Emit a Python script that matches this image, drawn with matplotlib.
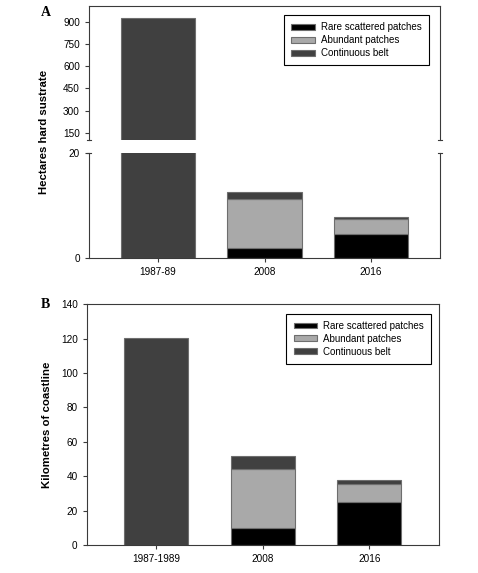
import matplotlib
matplotlib.use('Agg')
import matplotlib.pyplot as plt
import numpy as np

# datos panel A (hectareas)
periodos_a = ['1987-89', '2008', '2016']
rare_a = [0, 1.85, 4.6]
abund_a = [0, 9.35, 2.8]
cont_a = [930, 1.4, 0.35]

# datos panel B (km de costa)
periodos_b = ['1987-1989', '2008', '2016']
rare_b = [0, 9.7, 24.8]
abund_b = [0, 34.7, 10.9]
cont_b = [120.4, 7.6, 1.9]

etiquetas = ['Rare scattered patches', 'Abundant patches', 'Continuous belt']
colores = ['#000000', '#a9a9a9', '#404040']
borde = '#6e6e6e'
spine_c = '#3a3a3a'

plt.rcParams['font.family'] = ['Liberation Sans', 'DejaVu Sans']
plt.rcParams['font.size'] = 7

fig = plt.figure(figsize=(4.78, 5.73), dpi=100)


def apilar(ax, x, rare, abund, cont, ancho):
    rare = np.array(rare)
    abund = np.array(abund)
    cont = np.array(cont)
    h = []
    h.append(ax.bar(x, rare, ancho, color=colores[0], edgecolor=borde, linewidth=0.8))
    h.append(ax.bar(x, abund, ancho, bottom=rare, color=colores[1], edgecolor=borde, linewidth=0.8))
    h.append(ax.bar(x, cont, ancho, bottom=rare + abund, color=colores[2], edgecolor=borde, linewidth=0.8))
    return h


def estilo(ax):
    for s in ax.spines.values():
        s.set_color(spine_c)
        s.set_linewidth(0.8)
    ax.tick_params(direction='out', length=3, width=0.8, color=spine_c, pad=3.5, labelsize=7.2)


def leyenda(ax, h, ancla):
    leg = ax.legend(h, etiquetas, loc='upper right', bbox_to_anchor=ancla, borderaxespad=0,
                    fontsize=7.0, fancybox=False, edgecolor='black', framealpha=1,
                    handlelength=2.45, handleheight=0.55, labelspacing=0.3, handletextpad=0.6,
                    borderpad=0.75)
    leg.get_frame().set_linewidth(0.8)
    for p in leg.get_patches():
        p.set_edgecolor(borde)


x = np.arange(3)

# panel A: eje partido
ax_up = fig.add_axes([0.1862, 0.7557, 0.7343, 0.2338])
ax_lo = fig.add_axes([0.1862, 0.5497, 0.7343, 0.1833])

h = apilar(ax_up, x, rare_a, abund_a, cont_a, 0.7)
apilar(ax_lo, x, rare_a, abund_a, cont_a, 0.7)

ax_up.set_ylim(100, 1010)
ax_up.set_yticks([150, 300, 450, 600, 750, 900])
ax_lo.set_ylim(0, 20)
ax_lo.set_yticks([0, 20])
for ax in (ax_up, ax_lo):
    ax.set_xlim(-0.65, 2.65)
    estilo(ax)
ax_up.spines['bottom'].set_visible(False)
ax_up.tick_params(axis='x', bottom=False, labelbottom=False)
ax_lo.spines['top'].set_visible(False)
ax_lo.set_xticks(x)
ax_lo.set_xticklabels(periodos_a)

# marcas del corte
d = 0.006
for xs in (0, 1):
    ax_up.plot([xs - d, xs + d], [0, 0], transform=ax_up.transAxes, color=spine_c,
               lw=0.8, clip_on=False)
    ax_lo.plot([xs - d, xs + d], [1, 1], transform=ax_lo.transAxes, color=spine_c,
               lw=0.8, clip_on=False)

leyenda(ax_up, h, (0.969, 0.933))

fig.text(0.092, 0.769, 'Hectares hard sustrate', rotation=90, ha='center', va='center',
         fontsize=8.2, fontweight='bold')
fig.text(0.085, 0.978, 'A', family=['Liberation Serif', 'DejaVu Serif'], fontweight='bold',
         fontsize=10, ha='left', va='center')

# panel B
ax_b = fig.add_axes([0.1814, 0.0489, 0.7364, 0.4201])
hb = apilar(ax_b, x, rare_b, abund_b, cont_b, 0.6)
ax_b.set_xlim(-0.65, 2.65)
ax_b.set_ylim(0, 140)
ax_b.set_yticks(np.arange(0, 141, 20))
ax_b.set_xticks(x)
ax_b.set_xticklabels(periodos_b)
estilo(ax_b)
leyenda(ax_b, hb, (0.979, 0.961))

fig.text(0.098, 0.258, 'Kilometres of coastline', rotation=90, ha='center', va='center',
         fontsize=8.2, fontweight='bold')
fig.text(0.085, 0.468, 'B', family=['Liberation Serif', 'DejaVu Serif'], fontweight='bold',
         fontsize=10, ha='left', va='center')

fig.savefig('out.png', dpi=100)
